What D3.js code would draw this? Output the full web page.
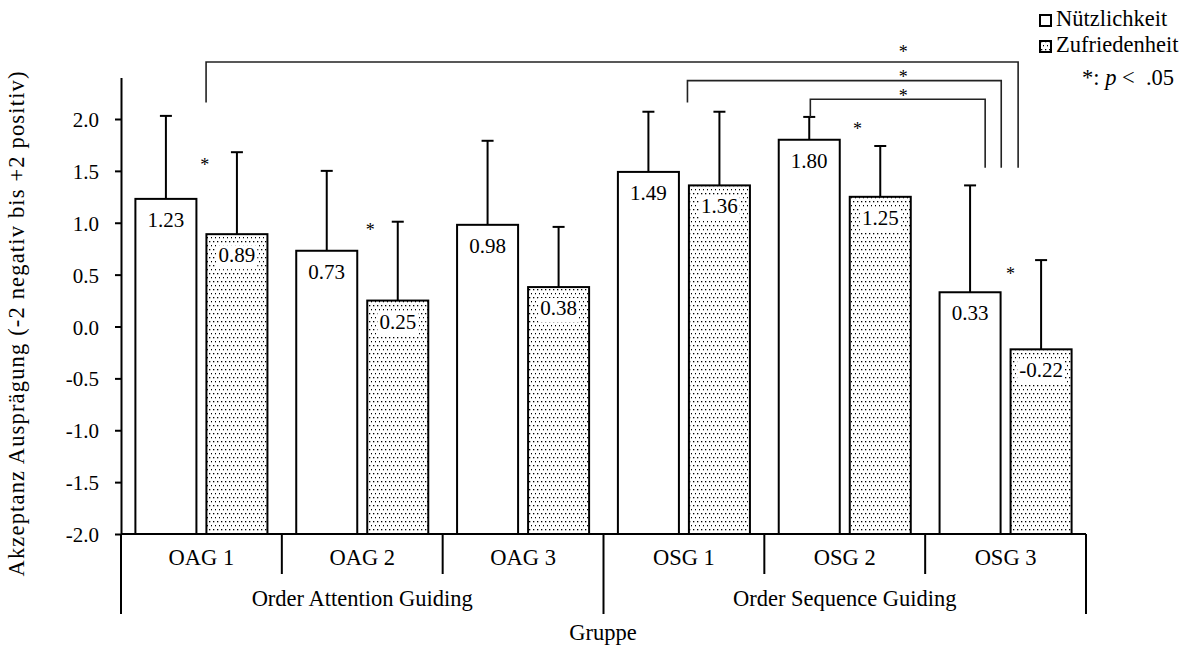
<!DOCTYPE html>
<html lang="de">
<head>
  <meta charset="UTF-8">
  <script src="https://d3js.org/d3.v7.min.js"></script>
  <style>
    body { margin: 0; background: #fff; }
    svg text { font-family: 'Liberation Serif', 'DejaVu Serif', serif; }
    .axis text { font-size: 21px; fill: #000; }
    .axis path, .axis line { stroke: #000; stroke-width: 2px; }
    text.label { font-size: 21px; fill: #000; }
    text.word { font-size: 22.5px; fill: #000; }
    text.star { font-size: 18px; fill: #000; }
    rect.bar { stroke: #000; stroke-width: 2px; }
    line.err { stroke: #000; stroke-width: 2px; }
    path.bracket { fill: none; stroke: #222; stroke-width: 1.6px; }
  </style>
</head>
<body>
<script>
  // data
  const groups = ["OAG 1", "OAG 2", "OAG 3", "OSG 1", "OSG 2", "OSG 3"];
  const families = ["Order Attention Guiding", "Order Sequence Guiding"];
  const series = ["Nützlichkeit", "Zufriedenheit"];
  const nuetz = [1.23, 0.73, 0.98, 1.49, 1.80, 0.33];
  const zufr = [0.89, 0.25, 0.38, 1.36, 1.25, -0.22];
  const nuetzErr = [0.80, 0.77, 0.81, 0.58, 0.22, 1.03];
  const zufrErr = [0.79, 0.76, 0.58, 0.71, 0.49, 0.86];
  const yTicks = [-2.0, -1.5, -1.0, -0.5, 0.0, 0.5, 1.0, 1.5, 2.0];

  // significance marks: group index, position inside the group (0..1), value
  const stars = [
    { g: 0, f: 0.52, v: 1.60 },
    { g: 1, f: 0.55, v: 0.97 },
    { g: 4, f: 0.58, v: 1.94 },
    { g: 5, f: 0.53, v: 0.54 }
  ];
  // brackets: left end, right end, top, star position
  const brackets = [
    { g1: 0, f1: 0.529, v1: 2.16, g2: 5, f2: 0.578, v2: 1.53, top: 2.55, star: 2.68 },
    { g1: 3, f1: 0.522, v1: 2.16, g2: 5, f2: 0.473, v2: 1.53, top: 2.37, star: 2.44 },
    { g1: 4, f1: 0.286, v1: 2.02, g2: 5, f2: 0.373, v2: 1.53, top: 2.19, star: 2.26 }
  ];
  const starGroup = 4, starFrac = 0.864;

  const W = 1192, H = 646;
  const svg = d3.select("body").append("svg")
    .attr("width", W).attr("height", H);

  const defs = svg.append("defs");
  const pat = defs.append("pattern")
    .attr("id", "dots")
    .attr("patternUnits", "userSpaceOnUse")
    .attr("width", 4).attr("height", 8);
  pat.append("rect").attr("width", 4).attr("height", 8).attr("fill", "#fff");
  pat.append("rect").attr("x", 1).attr("y", 1).attr("width", 1.3).attr("height", 1.3).attr("fill", "#000");
  pat.append("rect").attr("x", 3).attr("y", 5).attr("width", 1.3).attr("height", 1.3).attr("fill", "#000");

  const y = d3.scaleLinear().domain([-2, 2.4]).range([534, 77.5]);
  const x = d3.scaleBand().domain(groups).range([121, 1086]);
  const xs = d3.scaleBand().domain(series).range([0, x.bandwidth()])
    .paddingInner(0.1408).paddingOuter(0.2028);
  const gx = (g, f) => x(groups[g]) + f * x.bandwidth();

  // y axis
  const ya = svg.append("g")
    .attr("class", "axis")
    .attr("transform", "translate(121,0)")
    .call(d3.axisLeft(y).tickValues(yTicks).tickFormat(d => d.toFixed(1))
      .tickSizeInner(6).tickSizeOuter(0).tickPadding(16));
  ya.attr("font-family", null).attr("font-size", null);
  ya.selectAll("text").attr("dy", "0.36em");

  svg.append("text")
    .attr("class", "word")
    .attr("transform", "translate(24,324) rotate(-90)")
    .attr("text-anchor", "middle")
    .attr("textLength", 505)
    .attr("lengthAdjust", "spacing")
    .text("Akzeptanz Ausprägung (-2 negativ bis +2 positiv)");

  // bars
  const rows = groups.map((g, i) => [
    { g: g, s: series[0], v: nuetz[i], e: nuetzErr[i] },
    { g: g, s: series[1], v: zufr[i], e: zufrErr[i] }
  ]).flat();

  const bx = d => x(d.g) + xs(d.s);

  svg.selectAll("line.err")
    .data(rows).enter().append("line")
    .attr("class", "err")
    .attr("x1", d => bx(d) + xs.bandwidth() / 2)
    .attr("x2", d => bx(d) + xs.bandwidth() / 2)
    .attr("y1", d => y(d.v))
    .attr("y2", d => y(d.v + d.e));

  svg.selectAll("line.cap")
    .data(rows).enter().append("line")
    .attr("class", "err")
    .attr("x1", d => bx(d) + xs.bandwidth() / 2 - 6)
    .attr("x2", d => bx(d) + xs.bandwidth() / 2 + 6)
    .attr("y1", d => y(d.v + d.e))
    .attr("y2", d => y(d.v + d.e));

  svg.selectAll("rect.bar")
    .data(rows).enter().append("rect")
    .attr("class", "bar")
    .attr("x", bx)
    .attr("width", xs.bandwidth())
    .attr("y", d => y(d.v))
    .attr("height", d => y(-2) - y(d.v))
    .attr("fill", d => d.s === series[0] ? "#fff" : "url(#dots)");

  // value labels
  const vl = svg.selectAll("g.vl")
    .data(rows).enter().append("g")
    .attr("class", "vl");
  vl.append("text")
    .attr("class", "label")
    .attr("text-anchor", "middle")
    .attr("x", d => bx(d) + xs.bandwidth() / 2)
    .attr("y", d => y(d.v) + 28)
    .text(d => d.v.toFixed(2));
  vl.each(function(d) {
    if (d.s !== series[1]) return;
    const t = d3.select(this).select("text");
    const b = t.node().getBBox();
    d3.select(this).insert("rect", "text")
      .attr("x", b.x - 2).attr("y", b.y + 2)
      .attr("width", b.width + 4).attr("height", b.height)
      .attr("fill", "#fff");
  });

  // x axis
  svg.append("line")
    .attr("x1", 121).attr("x2", 1086)
    .attr("y1", y(-2)).attr("y2", y(-2))
    .attr("stroke", "#000").attr("stroke-width", 2);

  const seps = d3.range(groups.length + 1);
  svg.selectAll("line.sep")
    .data(seps).enter().append("line")
    .attr("x1", i => 121 + i * x.step())
    .attr("x2", i => 121 + i * x.step())
    .attr("y1", y(-2))
    .attr("y2", i => i % 3 === 0 ? 614 : 574)
    .attr("stroke", "#000").attr("stroke-width", 2);

  svg.selectAll("text.cat")
    .data(groups).enter().append("text")
    .attr("class", "word")
    .attr("text-anchor", "middle")
    .attr("x", d => x(d) + x.bandwidth() / 2)
    .attr("y", 565)
    .text(d => d);

  svg.selectAll("text.fam")
    .data(families).enter().append("text")
    .attr("class", "word")
    .attr("text-anchor", "middle")
    .attr("x", (d, i) => x(groups[i * 3]) + 1.5 * x.step())
    .attr("y", 606)
    .text(d => d);

  svg.append("text")
    .attr("class", "word")
    .attr("text-anchor", "middle")
    .attr("x", 603).attr("y", 640)
    .text("Gruppe");

  // significance
  svg.selectAll("path.bracket")
    .data(brackets).enter().append("path")
    .attr("class", "bracket")
    .attr("d", d => `M${gx(d.g1, d.f1)},${y(d.v1)}V${y(d.top)}H${gx(d.g2, d.f2)}V${y(d.v2)}`);

  svg.selectAll("text.bstar")
    .data(brackets).enter().append("text")
    .attr("class", "star")
    .attr("text-anchor", "middle")
    .attr("x", gx(starGroup, starFrac))
    .attr("y", d => y(d.star) + 10)
    .text("*");

  svg.selectAll("text.gstar")
    .data(stars).enter().append("text")
    .attr("class", "star")
    .attr("text-anchor", "middle")
    .attr("x", d => gx(d.g, d.f))
    .attr("y", d => y(d.v) + 10)
    .text("*");

  // legend
  const lg = svg.append("g").attr("transform", "translate(1040,0)");
  series.forEach((s, i) => {
    lg.append("rect")
      .attr("x", 0).attr("y", 15 + i * 26)
      .attr("width", 11).attr("height", 11)
      .attr("fill", i === 0 ? "#fff" : "url(#dots)")
      .attr("stroke", "#000").attr("stroke-width", 2);
    lg.append("text")
      .attr("class", "word")
      .attr("x", 16).attr("y", 26 + i * 26)
      .text(s);
  });
  const pt = lg.append("text").attr("class", "word").attr("x", 42).attr("y", 85)
    .attr("xml:space", "preserve");
  pt.append("tspan").text("*: ");
  pt.append("tspan").attr("font-style", "italic").text("p");
  pt.append("tspan").text(" <  .05");
</script>
</body>
</html>
